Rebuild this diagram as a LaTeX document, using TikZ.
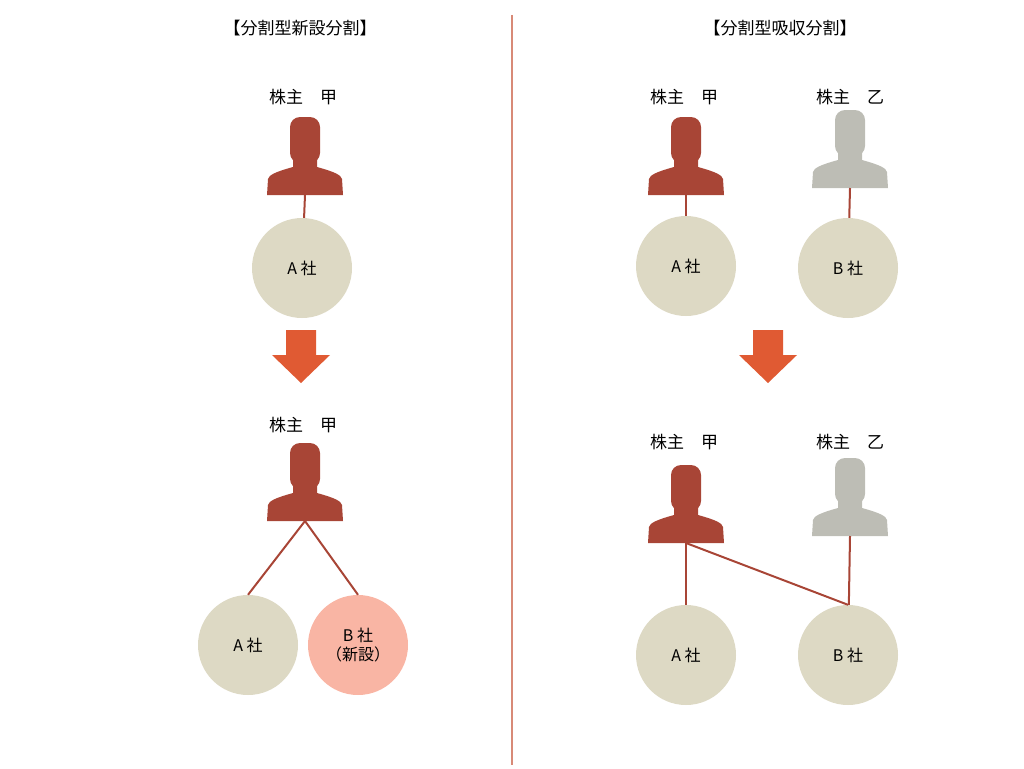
\documentclass[tikz,border=0pt]{standalone}
\usepackage{fontspec}
\setmainfont{Noto Sans CJK JP}
\usetikzlibrary{positioning}
\definecolor{brick}{HTML}{A84536}
\definecolor{stone}{HTML}{DDD9C4}
\definecolor{greyman}{HTML}{BDBDB5}
\definecolor{arrowred}{HTML}{E05A33}
\definecolor{newpink}{HTML}{F9B5A4}
\definecolor{divider}{HTML}{D88A77}
% person silhouette: #1 x, #2 head top, #3 colour, #4 name of foot coordinate
\newcommand{\person}[4]{%
  \fill[#3, rounded corners=10pt] (#1-15,#2) rectangle (#1+15,#2+46);
  \fill[#3] (#1-12,#2+40) -- (#1-12,#2+50) .. controls (#1-30,#2+55) and (#1-36,#2+58) .. (#1-37,#2+62)
    -- (#1-38,#2+78) -- (#1+38,#2+78) -- (#1+37,#2+62) .. controls (#1+36,#2+58) and (#1+30,#2+55) .. (#1+12,#2+50)
    -- (#1+12,#2+40) -- cycle;
  \coordinate (#4) at (#1,#2+78);}
% block arrow pointing down: #1 x, #2 top
\newcommand{\bigdown}[2]{%
  \fill[arrowred] (#1-15,#2) -- (#1+15,#2) -- (#1+15,#2+25) -- (#1+29,#2+25) -- (#1,#2+53)
    -- (#1-29,#2+25) -- (#1-15,#2+25) -- cycle;}
\begin{document}
\begin{tikzpicture}[x=1pt,y=-1pt]
    \tikzset{
        company/.style = {circle, fill=stone, minimum size=100pt, inner sep=0pt, font=\fontsize{16}{19}\selectfont},
        link/.style = {draw=brick, line width=2pt},
        label/.style = {font=\fontsize{17}{20}\selectfont},
    }
    \useasboundingbox (0,0) rectangle (1024,768);

    \draw[divider, line width=1.5pt] (512,15) -- (512,765);

    % left: new-company split
    \node[label](ltitle) at (300,28){【分割型新設分割】};
    \node[label](lsh1) at (303,97){株主\quad 甲};
    \person{305}{117}{brick}{lp1}
    \node[company](la1) at (302,268){A 社};
    \path[link] (lp1) -- (la1);
    \bigdown{301}{330}
    \node[label](lsh2) at (303,425){株主\quad 甲};
    \person{305}{443}{brick}{lp2}
    \node[company](la2) at (248,645){A 社};
    \node[company, fill=newpink, align=center](lb2) at (358,645){B 社\\（新設）};
    \path[link] (lp2) -- (la2.north);
    \path[link] (lp2) -- (lb2.north);

    % right: absorption split
    \node[label](rtitle) at (780,28){【分割型吸収分割】};
    \node[label](rsh1) at (684,97){株主\quad 甲};
    \node[label](rsh2) at (850,97){株主\quad 乙};
    \person{686}{117}{brick}{rp1}
    \person{850}{110}{greyman}{rp2}
    \node[company](ra1) at (686,266){A 社};
    \node[company](rb1) at (848,268){B 社};
    \path[link] (rp1) -- (ra1);
    \path[link] (rp2) -- (rb1);
    \bigdown{768}{330}
    \node[label](rsh3) at (684,442){株主\quad 甲};
    \node[label](rsh4) at (850,442){株主\quad 乙};
    \person{686}{465}{brick}{rp3}
    \person{850}{458}{greyman}{rp4}
    \node[company](ra2) at (686,655){A 社};
    \node[company](rb2) at (848,655){B 社};
    \path[link] (rp3) -- (ra2);
    \path[link] (rp3) -- (rb2.north);
    \path[link] (rp4) -- (rb2);
\end{tikzpicture}
\end{document}
